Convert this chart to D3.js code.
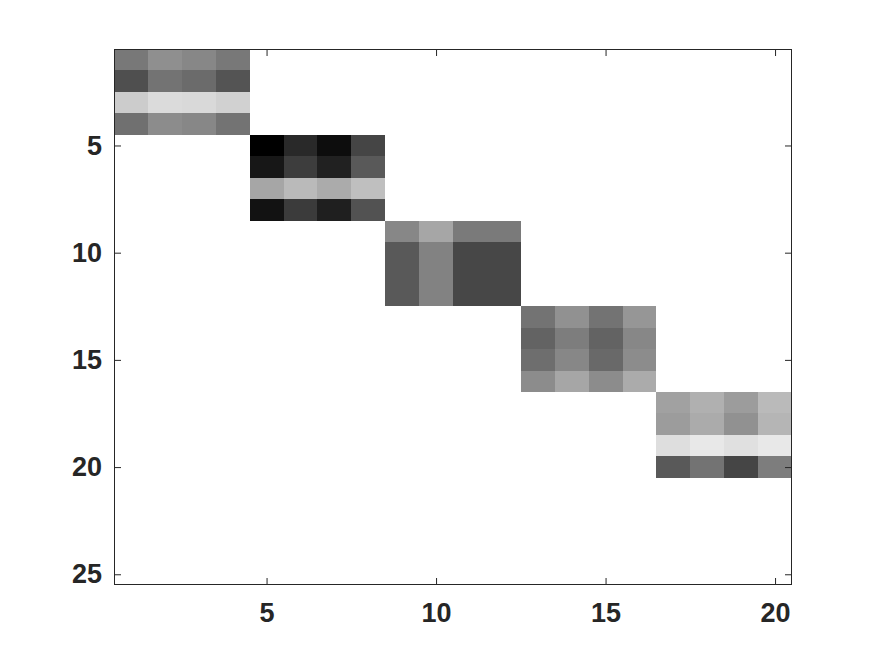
<!DOCTYPE html>
<html>
<head>
<meta charset="utf-8">
<script src="https://cdn.jsdelivr.net/npm/d3@7"></script>
<style>
  html, body { margin: 0; padding: 0; background: #fff; }
  svg { display: block; }
</style>
</head>
<body>
<svg id="chart" width="875" height="656"></svg>
<script>
// ---- Data (gray intensity 0 = black, 1 = white) ----
const nRows = 25;
const nCols = 20;
const blockSize = 4;
const block1 = [
  [0.47, 0.56, 0.53, 0.47],
  [0.31, 0.45, 0.42, 0.33],
  [0.80, 0.86, 0.85, 0.82],
  [0.44, 0.55, 0.53, 0.45]
];
const block2 = [
  [0.00, 0.16, 0.05, 0.27],
  [0.09, 0.24, 0.13, 0.35],
  [0.65, 0.73, 0.67, 0.75],
  [0.07, 0.23, 0.12, 0.32]
];
const block3 = [
  [0.53, 0.65, 0.48, 0.48],
  [0.35, 0.51, 0.28, 0.28],
  [0.35, 0.51, 0.28, 0.28],
  [0.35, 0.51, 0.28, 0.28]
];
const block4 = [
  [0.45, 0.57, 0.45, 0.59],
  [0.39, 0.49, 0.39, 0.53],
  [0.43, 0.53, 0.41, 0.55],
  [0.55, 0.65, 0.55, 0.67]
];
const block5 = [
  [0.63, 0.69, 0.61, 0.73],
  [0.61, 0.67, 0.57, 0.71],
  [0.87, 0.91, 0.88, 0.91],
  [0.35, 0.45, 0.27, 0.49]
];
const blocks = [block1, block2, block3, block4, block5];
const xTicks = [5, 10, 15, 20];
const yTicks = [5, 10, 15, 20, 25];

// ---- Build cells ----
const cells = [];
blocks.forEach((b, k) => {
  b.forEach((row, i) => {
    row.forEach((v, j) => {
      cells.push({ r: k * blockSize + i + 1, c: k * blockSize + j + 1, v: v });
    });
  });
});

// ---- Layout ----
const svg = d3.select("#chart");
const mLeft = 114, mRight = 792, mTop = 49, mBottom = 585;
const x = d3.scaleLinear().domain([0.5, nCols + 0.5]).range([mLeft, mRight]);
const y = d3.scaleLinear().domain([0.5, nRows + 0.5]).range([mTop, mBottom]);
const color = d3.scaleLinear().domain([0, 1]).range(["#000000", "#ffffff"]);
const ink = "#262626";
const font = "'Liberation Sans', Arial, Helvetica, sans-serif";

svg.append("rect").attr("x", mLeft).attr("y", mTop)
  .attr("width", mRight - mLeft).attr("height", mBottom - mTop).attr("fill", "#fff");

svg.append("g").selectAll("rect").data(cells).join("rect")
  .attr("x", d => x(d.c - 0.5))
  .attr("y", d => y(d.r - 0.5))
  .attr("width", d => x(d.c + 0.5) - x(d.c - 0.5))
  .attr("height", d => y(d.r + 0.5) - y(d.r - 0.5))
  .attr("fill", d => color(d.v))
  .attr("shape-rendering", "crispEdges");

function styleAxis(g) {
  g.select(".domain").remove();
  g.selectAll(".tick line").attr("stroke", ink).attr("stroke-width", 1);
  g.selectAll(".tick text").attr("fill", ink)
    .style("font-family", font).style("font-size", "27px").style("font-weight", "bold");
}
svg.append("g").attr("transform", `translate(0,${mBottom})`)
  .call(d3.axisBottom(x).tickValues(xTicks).tickSize(-7).tickPadding(18).tickFormat(d3.format("d")))
  .call(styleAxis);
svg.append("g").attr("transform", `translate(0,${mTop})`)
  .call(d3.axisTop(x).tickValues(xTicks).tickSize(-7).tickFormat(""))
  .call(styleAxis);
svg.append("g").attr("transform", `translate(${mLeft},0)`)
  .call(d3.axisLeft(y).tickValues(yTicks).tickSize(-7).tickPadding(12).tickFormat(d3.format("d")))
  .call(styleAxis);
svg.append("g").attr("transform", `translate(${mRight},0)`)
  .call(d3.axisRight(y).tickValues(yTicks).tickSize(-7).tickFormat(""))
  .call(styleAxis);

svg.append("rect").attr("x", mLeft + 0.5).attr("y", mTop + 0.5)
  .attr("width", mRight - mLeft - 1).attr("height", mBottom - mTop - 1)
  .attr("fill", "none").attr("stroke", ink).attr("stroke-width", 1);
</script>
</body>
</html>
